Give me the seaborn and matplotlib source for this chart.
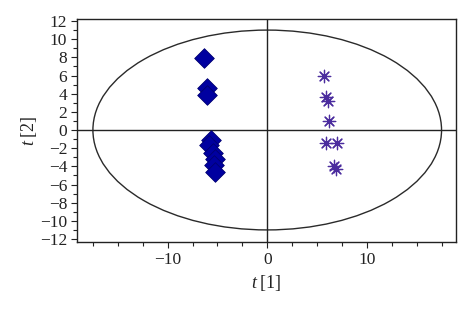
import numpy as np
import pandas as pd
import matplotlib
matplotlib.use("Agg")
import matplotlib.pyplot as plt
import seaborn as sns
from matplotlib.patches import Ellipse
from matplotlib.ticker import MultipleLocator

# Data
grp1_t1 = [-6.3, -6.0, -6.0, -5.6, -5.8, -5.4, -5.2, -5.3, -5.2]
grp1_t2 = [7.9, 4.6, 3.9, -1.1, -1.7, -2.5, -3.2, -3.8, -4.6]
grp2_t1 = [5.7, 5.9, 6.1, 6.2, 5.9, 7.0, 6.7, 6.9]
grp2_t2 = [5.9, 3.6, 3.2, 1.0, -1.4, -1.4, -4.0, -4.3]
ellipse_w = 35.0
ellipse_h = 22.0

df1 = pd.DataFrame({"t1": grp1_t1, "t2": grp1_t2})
df2 = pd.DataFrame({"t1": grp2_t1, "t2": grp2_t2})

sns.set_style("white")
plt.rcParams['font.family'] = ['Liberation Serif', 'DejaVu Serif']
plt.rcParams['mathtext.fontset'] = 'custom'
plt.rcParams['mathtext.it'] = 'Liberation Serif:italic'
plt.rcParams['mathtext.rm'] = 'Liberation Serif'

fig = plt.figure(figsize=(4.74, 3.09), dpi=100)
ax = fig.add_axes([0.1624, 0.2168, 0.7996, 0.7217])

ax.add_patch(Ellipse((0, 0), ellipse_w, ellipse_h, fill=False, edgecolor='#2a2a2a', lw=1.0, zorder=1))
ax.axhline(0, color='#222222', lw=1.0, zorder=1)
ax.axvline(0, color='#222222', lw=1.0, zorder=1)

sns.scatterplot(data=df1, x="t1", y="t2", marker='D', s=100, color='#0000A0',
                edgecolor='#000070', linewidth=0.6, ax=ax, zorder=3)
sns.scatterplot(data=df2, x="t1", y="t2", marker=(8, 2, 0), s=80, color='#4B2C9E',
                linewidth=0.9, ax=ax, zorder=3)

ax.set_xlim(-19.1, 18.95)
ax.set_ylim(-12.33, 12.22)
ax.xaxis.set_major_locator(MultipleLocator(10))
ax.xaxis.set_minor_locator(MultipleLocator(2.5))
ax.yaxis.set_major_locator(MultipleLocator(2))
ax.yaxis.set_minor_locator(MultipleLocator(1))
ax.tick_params(axis='both', which='both', direction='out', bottom=True, left=True,
               top=False, right=False, labelsize=12.5, colors='#222222')
ax.tick_params(which='major', length=4, width=0.8, pad=3)
ax.tick_params(which='minor', length=3, width=0.8)
for sp in ax.spines.values():
    sp.set_color('#222222')
    sp.set_linewidth(1.0)

ax.set_xlabel('$t$\u2009[1]', fontsize=13, color='#222222', labelpad=4)
ax.set_ylabel('$t$\u2009[2]', fontsize=13, color='#222222', labelpad=1)

fig.savefig('out.png', dpi=100)
